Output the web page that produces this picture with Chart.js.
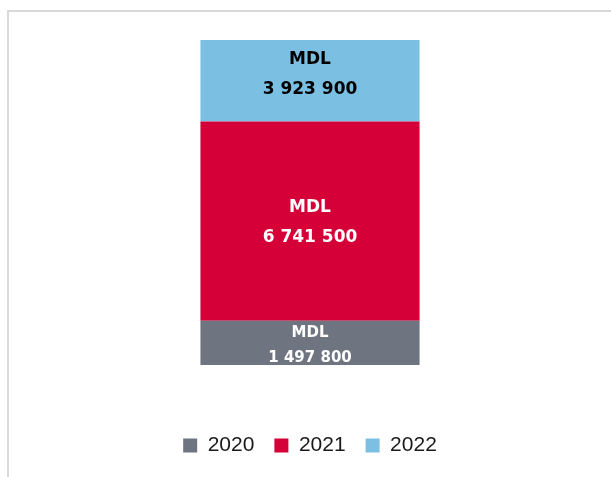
<!DOCTYPE html>
<html>
<head>
<meta charset="utf-8">
<script src="https://cdn.jsdelivr.net/npm/chart.js@4/dist/chart.umd.min.js"></script>
<style>
  html, body {
    margin: 0;
    padding: 0;
    background: #ffffff;
    overflow: hidden;
  }
  #frame {
    position: absolute;
    left: 7px;
    top: 10px;
    width: 700px;
    height: 600px;
    border-left: 2px solid #d9d9d9;
    border-top: 2px solid #d9d9d9;
  }
  #chart {
    position: absolute;
    left: 0;
    top: 0;
  }
</style>
</head>
<body>
<div id="frame">
  <canvas id="chart" width="602" height="465"></canvas>
</div>
<script>
// data
const years = ['2020', '2021', '2022'];
const amounts = [1497800, 6741500, 3923900];
const currency = 'MDL';
const axisMax = 11000000; // top of the value axis, the 2022 block is cut by it

// look
const barColors = ['#6f7580', '#d50037', '#7bc0e3'];
const labelColors = ['#ffffff', '#ffffff', '#000000'];
const labelSizes = [15, 17, 17];
const labelGaps = [25, 30, 30];
const labelShift = [3, 1, -6];

function spaced(n) {
  return String(n).replace(/\B(?=(\d{3})+(?!\d))/g, ' ');
}

const blockLabels = {
  id: 'blockLabels',
  afterDatasetsDraw(chart) {
    const ctx = chart.ctx;
    const area = chart.chartArea;
    ctx.save();
    ctx.textAlign = 'center';
    ctx.textBaseline = 'middle';
    chart.data.datasets.forEach((ds, i) => {
      const bar = chart.getDatasetMeta(i).data[0];
      if (!bar) return;
      const top = Math.max(bar.y, area.top);
      const bottom = Math.min(bar.base, area.bottom);
      const mid = (top + bottom) / 2 + labelShift[i];
      const gap = labelGaps[i];
      ctx.fillStyle = labelColors[i];
      ctx.font = 'bold ' + labelSizes[i] + 'px "DejaVu Sans"';
      ctx.fillText(currency, bar.x, mid - gap / 2);
      ctx.fillText(spaced(ds.data[0]), bar.x, mid + gap / 2);
    });
    ctx.restore();
  }
};

const datasets = years.map((y, i) => ({
  label: y,
  data: [amounts[i]],
  backgroundColor: barColors[i],
  borderWidth: 0,
  barPercentage: 0.364,
  categoryPercentage: 1
}));

new Chart(document.getElementById('chart').getContext('2d'), {
  type: 'bar',
  data: {
    labels: [''],
    datasets
  },
  options: {
    responsive: false,
    animation: false,
    layout: {
      padding: {top: 28, bottom: 11, left: 0, right: 0}
    },
    scales: {
      x: {
        stacked: true,
        grid: {display: false, drawTicks: false},
        border: {display: false},
        ticks: {display: false},
        afterFit(scale) { scale.height = 50; }
      },
      y: {
        stacked: true,
        display: false,
        min: 0,
        max: axisMax
      }
    },
    plugins: {
      tooltip: {enabled: false},
      legend: {
        position: 'bottom',
        labels: {
          boxWidth: 14,
          boxHeight: 14,
          padding: 20,
          color: '#1a1a1a',
          font: {family: '"Liberation Sans"', size: 21}
        }
      }
    }
  },
  plugins: [blockLabels]
});
</script>
</body>
</html>
